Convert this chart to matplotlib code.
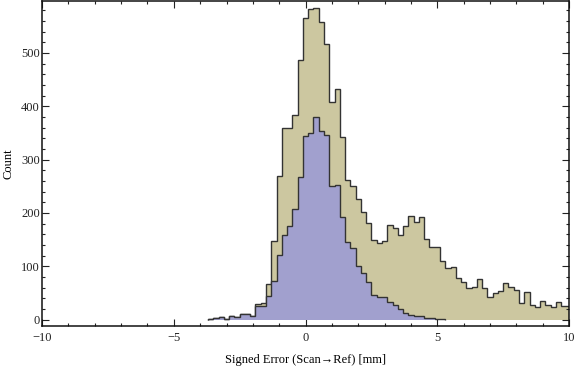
# Signed error histogram: all points (tan) vs. subset (purple), Mathematica-style frame

import numpy as np
import matplotlib.pyplot as plt
from matplotlib.ticker import MultipleLocator

# bin layout (width 0.2 mm, first edge at -3.7)
BIN_START = -3.7
BIN_WIDTH = 0.2

# counts per bin
tan_counts = [
    1, 3, 5, 2, 6, 5, 10, 10, 6, 30,
    32, 66, 147, 269, 359, 360, 384, 487, 566, 583,
    585, 558, 516, 407, 433, 342, 261, 251, 227, 201,
    182, 150, 143, 148, 178, 171, 158, 176, 195, 184,
    193, 152, 137, 137, 110, 96, 99, 79, 71, 60,
    62, 77, 60, 43, 50, 53, 68, 62, 55, 32,
    51, 28, 23, 35, 27, 23, 34, 25, 25,
]
purple_counts = [
    1, 3, 5, 2, 6, 5, 10, 10, 6, 26,
    26, 44, 73, 122, 158, 176, 208, 268, 345, 349,
    379, 353, 347, 250, 252, 193, 145, 134, 101, 88,
    71, 47, 43, 42, 33, 27, 20, 13, 9, 6,
    6, 4, 3, 2, 1,
]

x_ticks = [-10, -5, 0, 5, 10]
x_tick_labels = ["\u221210", "\u22125", "0", "5", "10"]
y_ticks = [0, 100, 200, 300, 400, 500]

TAN = "#ccc7a0"
PURPLE = "#a1a0ce"
EDGE = "#333333"


def main():
    plt.rcParams["font.family"] = ["Liberation Serif", "DejaVu Serif"]

    fig = plt.figure(figsize=(5.76, 3.66), dpi=100)
    ax = fig.add_axes([0.073, 0.109, 0.915, 0.888])

    tan = np.array(tan_counts, dtype=float)
    pur = np.array(purple_counts, dtype=float)
    tan_edges = BIN_START + BIN_WIDTH * np.arange(len(tan) + 1)
    pur_edges = BIN_START + BIN_WIDTH * np.arange(len(pur) + 1)

    ax.stairs(tan, tan_edges, fill=True, facecolor=TAN, edgecolor="none", zorder=1)
    ax.stairs(tan, tan_edges, baseline=0, color=EDGE, linewidth=1.0, zorder=2)
    ax.stairs(pur, pur_edges, fill=True, facecolor=PURPLE, edgecolor="none", zorder=3)
    ax.stairs(pur, pur_edges, baseline=0, color=EDGE, linewidth=1.0, zorder=4)

    ax.set_xlim(-10, 10)
    ax.set_ylim(-12, 597)

    ax.set_xticks(x_ticks)
    ax.set_xticklabels(x_tick_labels)
    ax.set_yticks(y_ticks)
    ax.xaxis.set_minor_locator(MultipleLocator(1))
    ax.yaxis.set_minor_locator(MultipleLocator(20))

    ax.tick_params(which="both", direction="in", top=True, right=True,
                   colors="#222222", labelsize=9, width=0.8)
    ax.tick_params(which="major", length=5)
    ax.tick_params(which="minor", length=2.5)
    ax.tick_params(axis="x", which="major", pad=4)
    ax.tick_params(axis="y", which="major", pad=1.5)
    for side in ax.spines.values():
        side.set_linewidth(1.1)
        side.set_color("#111111")

    ax.set_xlabel("Signed Error (Scan\u2192Ref) [mm]", fontsize=9)
    ax.set_ylabel("Count", fontsize=9)
    ax.xaxis.set_label_coords(0.5, -0.085)
    ax.yaxis.set_label_coords(-0.052, 0.5)

    fig.savefig("out.png", dpi=100)
    plt.close(fig)


if __name__ == "__main__":
    main()
